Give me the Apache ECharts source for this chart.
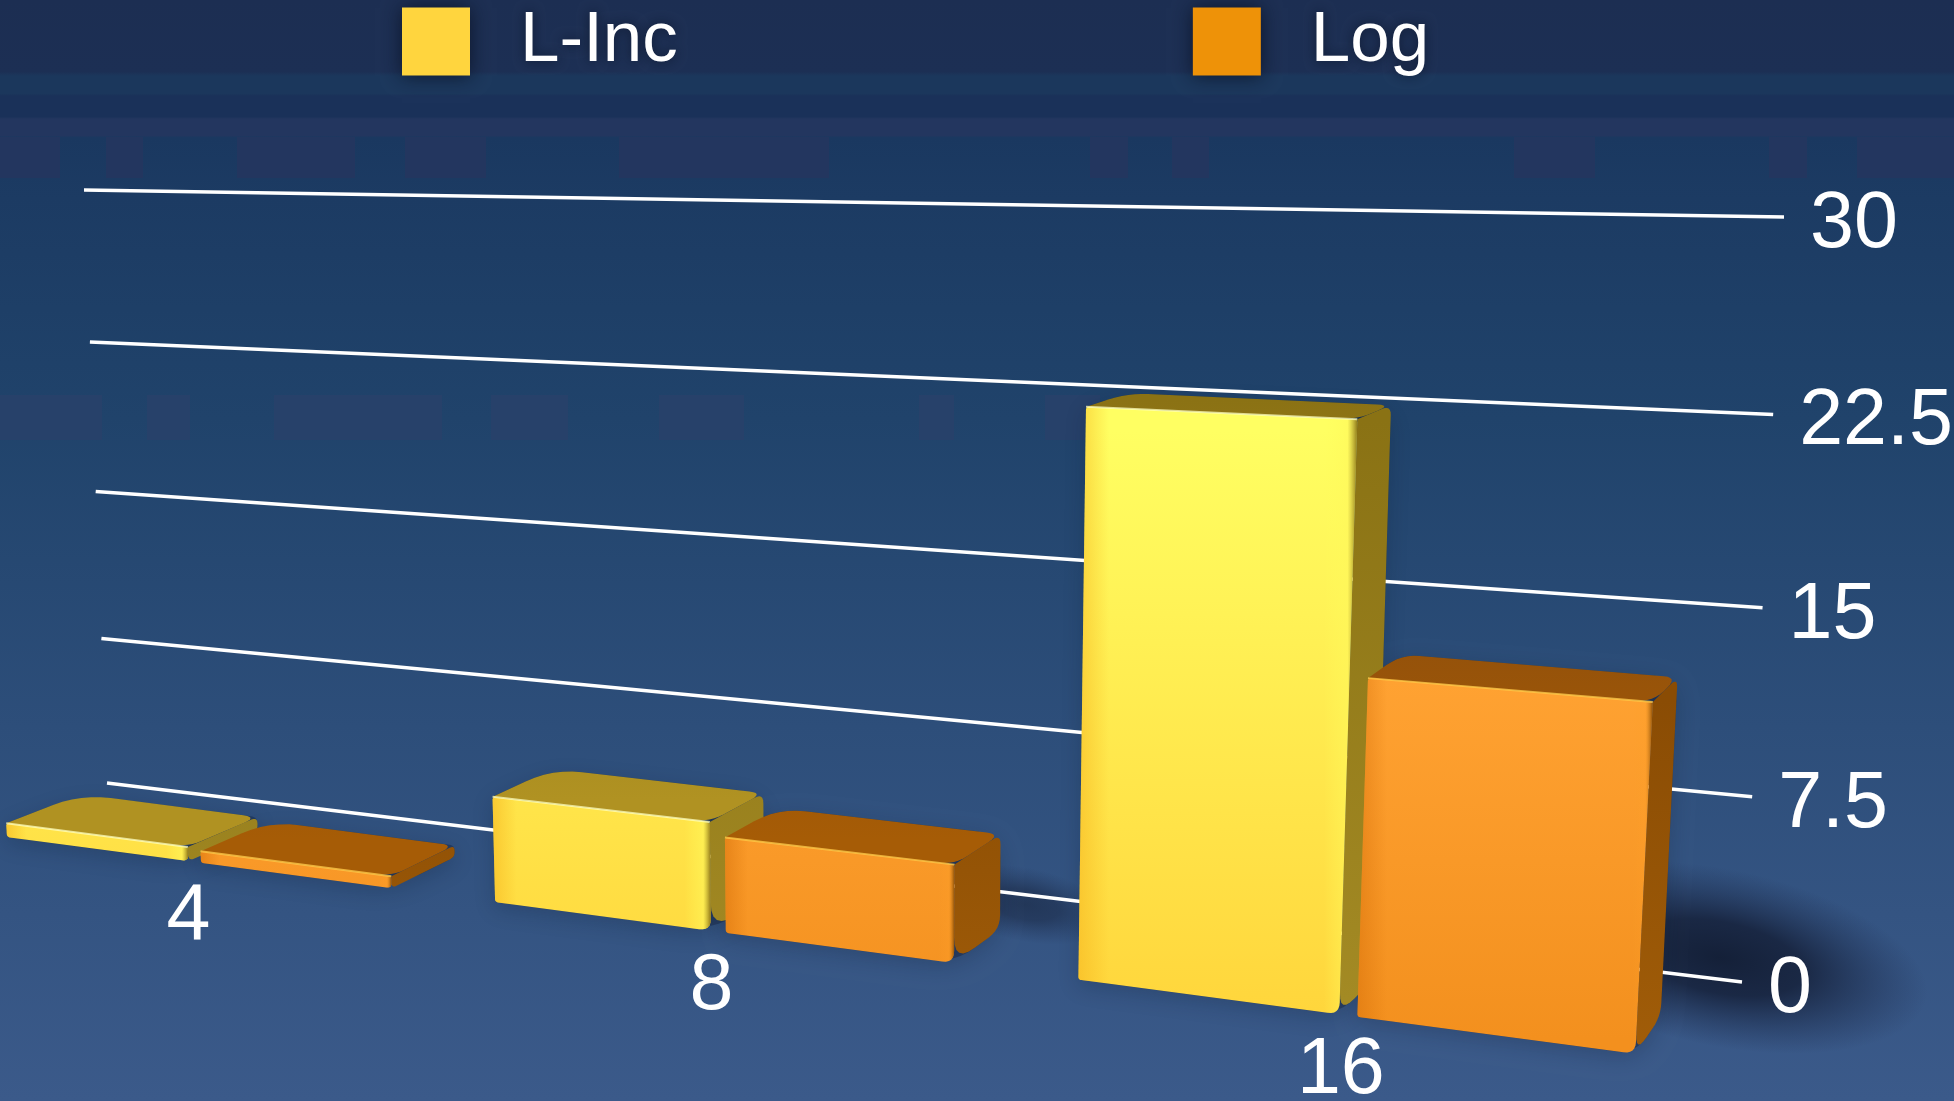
<!DOCTYPE html>
<html><head><meta charset="utf-8">
<style>html,body{margin:0;padding:0;width:100%;height:100%;overflow:hidden;background:#1b2e52}#c{width:1954px;height:1101px}</style>
<script src="https://cdn.jsdelivr.net/npm/echarts@6/dist/echarts.min.js"></script>
</head><body><div id="c"></div>
<script>
const categories = ['4', '8', '16'];
const seriesNames = ['L-Inc', 'Log'];
const lIncValues = [0.68, 4.75, 23];
const logValues = [0.55, 4.15, 13.27];
const tickValues = [0, 7.5, 15, 22.5, 30];

const FONT = '"Liberation Sans", Arial, sans-serif';
const GRID = {left: 100, top: 100, width: 1500, height: 800};

// perspective of the plane holding the bars' front faces
function frontPlane(s, v) {
  const w = 1 - 0.0816 * s - 0.0013 * v;
  return [(447.7 * s - 1.135 * v + 7) / w, (-8.6 * s - 21.37 * v + 837) / w];
}
// from a front point to the matching point at the back of the bar
function toBack(p) { return [p[0] + 75 - 0.0304 * p[0], p[1] + 1.1 - 0.0365 * p[1]]; }

// perspective of the back wall, from the unit square to its four corners
function squareToQuad(q) {
  const [[x0,y0],[x1,y1],[x2,y2],[x3,y3]] = q;
  const dx1=x1-x2, dx2=x3-x2, sx=x0-x1+x2-x3, dy1=y1-y2, dy2=y3-y2, sy=y0-y1+y2-y3;
  const den=dx1*dy2-dx2*dy1;
  const g=(sx*dy2-dx2*sy)/den, h=(dx1*sy-sx*dy1)/den;
  const a=x1-x0+g*x1, b=x3-x0+h*x3, c=x0, d=y1-y0+g*y1, e=y3-y0+h*y3, f=y0;
  return (u,t)=>{const w=g*u+h*t+1;return [(a*u+b*t+c)/w,(d*u+e*t+f)/w];};
}
const wallPlane = squareToQuad([[107,783],[1742,982],[1784,217],[84,190]]);

function planeCoord(px, py) {
  return [(px - GRID.left) / GRID.width, (GRID.top + GRID.height - py) / GRID.height];
}
function frontOf(px, py) {
  const [u, t] = planeCoord(px, py);
  return frontPlane(u * categories.length - 0.1, t * 30);
}
function roundPoly(pts, radii) {
  const out = [], n = pts.length;
  for (let i = 0; i < n; i++) {
    const p = pts[i], a = pts[(i + n - 1) % n], b = pts[(i + 1) % n];
    const la = Math.hypot(a[0]-p[0], a[1]-p[1]), lb = Math.hypot(b[0]-p[0], b[1]-p[1]);
    const r = Math.min(radii[i], la * 0.45, lb * 0.45);
    if (r <= 0.01) { out.push(p); continue; }
    const s = [p[0] + (a[0]-p[0]) * r / la, p[1] + (a[1]-p[1]) * r / la];
    const e = [p[0] + (b[0]-p[0]) * r / lb, p[1] + (b[1]-p[1]) * r / lb];
    for (let k = 0; k <= 6; k++) {
      const t = k / 6, m = 1 - t;
      out.push([m*m*s[0] + 2*m*t*p[0] + t*t*e[0], m*m*s[1] + 2*m*t*p[1] + t*t*e[1]]);
    }
  }
  return out;
}
function vGrad(y0, y1, c0, c1) {
  return {type:'linear', x:0, y:y0, x2:0, y2:y1, global:true,
    colorStops:[{offset:0,color:c0},{offset:1,color:c1}]};
}
function hGrad(stops) {
  return {type:'linear', x:0, y:0, x2:1, y2:0, colorStops:stops.map(s=>({offset:s[0],color:s[1]}))};
}
const SKIN = [
  {front: vGrad(430, 1010, '#ffff62', '#ffd63c'),
   top: vGrad(400, 800, '#8b7214', '#b09222'),
   side: vGrad(420, 1000, '#8a7214', '#a38a24'),
   edge: 'rgba(255,255,190,0.75)',
   shade: hGrad([[0,'rgba(246,180,30,0.55)'],[0.11,'rgba(246,180,30,0)'],[0.88,'rgba(255,255,90,0)'],[0.965,'rgba(255,248,90,0.55)'],[1,'rgba(125,100,15,0.85)']])},
  {front: vGrad(680, 1040, '#ffa232', '#f3901e'),
   top: vGrad(650, 840, '#95520a', '#a65c06'),
   side: vGrad(700, 1040, '#8a4c04', '#a05c08'),
   edge: 'rgba(255,200,70,0.8)',
   shade: hGrad([[0,'rgba(214,112,10,0.5)'],[0.1,'rgba(214,112,10,0)'],[0.93,'rgba(255,160,40,0)'],[0.975,'rgba(255,160,40,0.25)'],[1,'rgba(120,65,0,0.85)']])}
];

function barCorners(api, sIndex) {
  const i = api.value(0), v = api.value(1);
  const band = api.size([1, 0])[0];
  const c0 = api.coord([i, 0]), c1 = api.coord([i, v]);
  // small gap between the two bars of a group
  const xl = c0[0] + (sIndex === 0 ? -0.4 : 0.018) * band;
  const xr = xl + (sIndex === 0 ? 0.392 : 0.384) * band;
  const fbl = frontOf(xl, c0[1]), fbr = frontOf(xr, c0[1]);
  const ftl = frontOf(xl, c1[1]), ftr = frontOf(xr, c1[1]);
  return {fbl, fbr, ftl, ftr, btl: toBack(ftl), btr: toBack(ftr), bbr: toBack(fbr)};
}
function poly(points, style) { return {type:'polygon', silent:true, shape:{points}, style}; }

function renderBar(sIndex) {
  return function (params, api) {
    const b = barCorners(api, sIndex), skin = SKIN[sIndex];
    const front = roundPoly([b.ftl, b.ftr, b.fbr, b.fbl], [3, 3, 12, 3]);
    return {type:'group', children:[
      poly(roundPoly([b.ftr, b.btr, b.bbr, b.fbr], [0, 10, 14, 40]), {fill: skin.side}),
      poly(roundPoly([b.ftl, b.ftr, b.btr, b.btl], [2, 16, 14, 30]), {fill: skin.top}),
      poly(front, {fill: skin.front}),
      poly(front, {fill: skin.shade}),
      {type:'polyline', silent:true, shape:{points:[b.ftl, b.ftr]}, style:{stroke: skin.edge, lineWidth:2, fill:null}}
    ]};
  };
}
function renderShadow(params, api) {
  const sIndex = api.value(2), v = api.value(1);
  const b = barCorners(api, sIndex);
  const hull = roundPoly([b.fbl, b.ftl, b.btl, b.btr, b.bbr, b.fbr], [3, 2, 40, 24, 20, 50]);
  const kids = [poly(hull, {
    fill:'rgba(14,24,46,0.35)', shadowBlur:20, shadowColor:'rgba(12,22,44,0.6)', shadowOffsetX:0, shadowOffsetY:6})];
  if (sIndex === 1 && v > 1) {
    const r = 32 + 13.5 * v, k = Math.min(1, v / 13);
    kids.unshift({type:'circle', silent:true, x:b.bbr[0] + r * 0.28, y:b.bbr[1] - r * 0.28,
      scaleX:1, scaleY:0.42, rotation:-0.2, shape:{cx:0, cy:0, r},
      style:{opacity:0.35 + 0.65 * k, fill:{type:'radial', x:0.5, y:0.5, r:0.5, colorStops:[
        {offset:0,color:'rgba(20,32,56,1)'},{offset:0.4,color:'rgba(22,34,60,0.88)'},{offset:0.72,color:'rgba(26,40,70,0.4)'},{offset:1,color:'rgba(30,45,80,0)'}]}}});
  }
  return {type:'group', children:kids};
}
function renderGrid(params, api) {
  const c = api.coord([0, api.value(0)]);
  const t = planeCoord(c[0], c[1])[1];
  const p0 = wallPlane(0, t), p1 = wallPlane(1, t);
  return {type:'group', children:[
    {type:'line', silent:true, shape:{x1:p0[0], y1:p0[1], x2:p1[0], y2:p1[1]}, style:{stroke:'#ffffff', lineWidth:3.5}},
    {type:'text', silent:true, style:{text:String(api.value(0)), x:p1[0] + 26, y:p1[1] + 8, fill:'#ffffff',
      font:'79px ' + FONT, textAlign:'left', textVerticalAlign:'middle'}}
  ]};
}
function renderCat(params, api) {
  const i = api.value(0);
  const c = api.coord([i, 0]);
  const p = frontOf(c[0], c[1]);
  return {type:'text', silent:true, style:{text:categories[i], x:p[0] - 4, y:p[1] + 56, fill:'#ffffff',
    font:'79px ' + FONT, textAlign:'center', textVerticalAlign:'middle'}};
}

const shadowData = [];
lIncValues.forEach((v, i) => shadowData.push([i, v, 0]));
logValues.forEach((v, i) => shadowData.push([i, v, 1]));

// faint blocky compression patches of the backdrop
function patchRects(spans, y, h, fill) {
  return spans.map(s => ({type:'rect', silent:true, shape:{x:s[0], y, width:s[1]-s[0], height:h}, style:{fill}}));
}
const backdrop = [].concat(
  patchRects([[0,60],[106,143],[237,355],[405,486],[619,829],[1090,1128],[1172,1209],[1514,1595],[1769,1807],[1857,1954]], 137, 41, '#23365f'),
  patchRects([[0,102],[147,190],[274,442],[491,568],[659,744],[919,954],[1045,1100]], 395, 45, '#27416a')
);

const chart = echarts.init(document.getElementById('c'), null, {renderer:'canvas', width:1954, height:1101});
chart.setOption({
  animation:false,
  backgroundColor:{type:'linear', x:0, y:0, x2:0, y2:1, colorStops:[
    {offset:0,color:'#1c2e52'},{offset:0.065,color:'#1c2f54'},{offset:0.069,color:'#1b375c'},
    {offset:0.085,color:'#1b375c'},{offset:0.087,color:'#1a3159'},{offset:0.106,color:'#1a3159'},
    {offset:0.108,color:'#23365f'},{offset:0.123,color:'#23365f'},{offset:0.125,color:'#1a3860'},
    {offset:0.18,color:'#1c3b63'},{offset:0.38,color:'#20436b'},{offset:0.66,color:'#2d4e7a'},{offset:1,color:'#3b5a8a'}]},
  tooltip:{show:false},
  graphic:{elements:backdrop},
  legend:{data:seriesNames, left:397, top:1, itemWidth:68, itemHeight:68, itemGap:515, icon:'rect',
    selectedMode:false,
    itemStyle:{shadowBlur:18, shadowColor:'rgba(8,16,34,0.85)'},
    textStyle:{color:'#ffffff', fontSize:71, fontFamily:FONT, padding:[8,0,0,45],
      textShadowBlur:12, textShadowColor:'rgba(8,16,34,0.7)'}},
  grid:{left:GRID.left, top:GRID.top, width:GRID.width, height:GRID.height},
  xAxis:{type:'category', data:categories, show:false},
  yAxis:{type:'value', min:0, max:30, interval:7.5, show:false},
  series:[
    {type:'custom', name:'shadow', z:1, silent:true, data:shadowData, renderItem:renderShadow, encode:{x:0,y:1}},
    {type:'custom', name:'grid', z:2, silent:true, data:tickValues.map(v=>[v]), renderItem:renderGrid, encode:{y:0}},
    {type:'custom', name:'cats', z:2, silent:true, data:categories.map((c,i)=>[i]), renderItem:renderCat, encode:{x:0}},
    {type:'custom', name:seriesNames[0], z:3, itemStyle:{color:'#ffd53e'}, data:lIncValues.map((v,i)=>[i,v]), renderItem:renderBar(0), encode:{x:0,y:1}},
    {type:'custom', name:seriesNames[1], z:4, itemStyle:{color:'#ee9208'}, data:logValues.map((v,i)=>[i,v]), renderItem:renderBar(1), encode:{x:0,y:1}}
  ]
});
</script></body></html>
